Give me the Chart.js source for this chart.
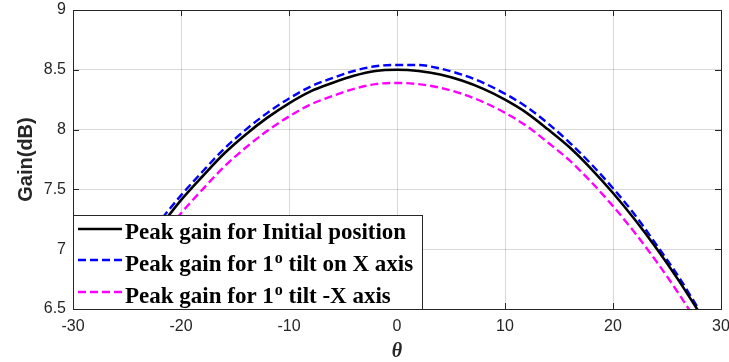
<!DOCTYPE html>
<html>
<head>
<meta charset="utf-8">
<script src="https://cdn.jsdelivr.net/npm/chart.js@4.4.1/dist/chart.umd.min.js"></script>
<style>
  html, body { margin: 0; padding: 0; background: #fff; }
  #wrap { width: 729px; height: 362px; position: relative; }
</style>
</head>
<body>
<div id="wrap"><canvas id="gainChart"></canvas></div>
<script>
// theta in degrees
const thetas = [-28, -26, -24, -22, -20, -18, -16, -14, -12, -10, -8, -6, -4, -2, 0,
                2, 4, 6, 8, 10, 12, 14, 16, 18, 20, 22, 24, 26, 28];

// peak gain (dB)
const gainInitial = [6.38, 6.67, 6.94, 7.18, 7.41, 7.61, 7.80, 7.96, 8.10, 8.22, 8.32, 8.39, 8.45, 8.49, 8.50,
                     8.49, 8.46, 8.41, 8.34, 8.25, 8.14, 8.00, 7.85, 7.67, 7.47, 7.25, 7.01, 6.75, 6.47];
const gainTiltX = [6.43, 6.72, 6.99, 7.23, 7.45, 7.65, 7.84, 8.00, 8.14, 8.26, 8.36, 8.43, 8.49, 8.53, 8.54,
                   8.54, 8.51, 8.46, 8.39, 8.30, 8.19, 8.05, 7.89, 7.71, 7.51, 7.29, 7.04, 6.78, 6.49];
const gainTiltNegX = [6.27, 6.56, 6.83, 7.07, 7.30, 7.50, 7.69, 7.85, 7.99, 8.11, 8.21, 8.28, 8.34, 8.38, 8.39,
                      8.38, 8.35, 8.30, 8.23, 8.14, 8.03, 7.89, 7.74, 7.56, 7.36, 7.14, 6.90, 6.64, 6.36];

const seriesLabels = [
    ['Peak gain for Initial position'],
    ['Peak gain for 1', 'o', ' tilt on X axis'],
    ['Peak gain for 1', 'o', ' tilt -X axis']
];
const seriesColors = ['#000000', '#0000ff', '#ff00ff'];
const seriesDash = [[], [8, 4], [8, 4]];
const seriesWidth = [2.6, 2.4, 2.4];

const axisColor = '#262626';
const gridColor = 'rgba(0,0,0,0.15)';

function toPoints(values) {
    return thetas.map((t, i) => ({ x: t, y: values[i] }));
}

// inward tick marks and the closed box around the axes
const boxPlugin = {
    id: 'boxFrame',
    afterDraw(chart) {
        const ctx = chart.ctx;
        const a = chart.chartArea;
        const xs = chart.scales.x, ys = chart.scales.y;
        ctx.save();
        ctx.strokeStyle = axisColor;
        ctx.lineWidth = 1;
        ctx.beginPath();
        xs.ticks.forEach(t => {
            const px = Math.round(xs.getPixelForValue(t.value)) + 0.5;
            ctx.moveTo(px, a.top); ctx.lineTo(px, a.top + 6);
            if (px < 420) return; // legend covers the lower left corner
            ctx.moveTo(px, a.bottom); ctx.lineTo(px, a.bottom - 6);
        });
        ys.ticks.forEach(t => {
            const py = Math.round(ys.getPixelForValue(t.value)) + 0.5;
            if (py < 214) { ctx.moveTo(a.left, py); ctx.lineTo(a.left + 6, py); }
            ctx.moveTo(a.right, py); ctx.lineTo(a.right - 6, py);
        });
        ctx.stroke();
        ctx.strokeRect(Math.round(a.left) + 0.5, Math.round(a.top) + 0.5,
                       Math.round(a.right - a.left), Math.round(a.bottom - a.top));
        ctx.restore();
    }
};

// legend box in the lower left corner, drawn by hand for the superscripts
const legendPlugin = {
    id: 'cornerLegend',
    afterDatasetsDraw(chart) {
        const ctx = chart.ctx;
        const a = chart.chartArea;
        const left = Math.round(a.left) + 0.5, top = 215.5;
        const right = 422.5, bottom = Math.round(a.bottom) + 0.5;
        ctx.save();
        ctx.fillStyle = '#fff';
        ctx.fillRect(left, top, right - left, bottom - top);
        ctx.strokeStyle = axisColor;
        ctx.lineWidth = 1;
        ctx.strokeRect(left, top, right - left, bottom - top);

        const sampleY = [229, 260, 292];
        const baseY = [239, 271, 303];
        const mainFont = 'bold 23px "Liberation Serif", "Times New Roman", serif';
        const supFont = 'bold 16px "Liberation Serif", "Times New Roman", serif';
        seriesLabels.forEach((parts, i) => {
            ctx.strokeStyle = seriesColors[i];
            ctx.lineWidth = seriesWidth[i];
            ctx.setLineDash(seriesDash[i]);
            ctx.beginPath();
            ctx.moveTo(78, sampleY[i]);
            ctx.lineTo(122, sampleY[i]);
            ctx.stroke();
            ctx.setLineDash([]);

            ctx.fillStyle = '#000';
            ctx.textBaseline = 'alphabetic';
            ctx.textAlign = 'left';
            let x = 125;
            parts.forEach((p, j) => {
                const sup = j === 1;
                ctx.font = sup ? supFont : mainFont;
                ctx.fillText(p, x + (sup ? 1 : 0), sup ? baseY[i] - 8 : baseY[i]);
                x += ctx.measureText(p).width + (sup ? 1 : 0);
            });
        });
        ctx.restore();
    }
};

const ctx = document.getElementById('gainChart').getContext('2d');
const gainChart = new Chart(ctx, {
    type: 'line',
    data: {
        datasets: [gainInitial, gainTiltX, gainTiltNegX].map((vals, i) => ({
            label: seriesLabels[i].join(''),
            data: toPoints(vals),
            borderColor: seriesColors[i],
            borderWidth: seriesWidth[i],
            borderDash: seriesDash[i],
            pointRadius: 0,
            fill: false,
            cubicInterpolationMode: 'monotone'
        }))
    },
    options: {
        responsive: true,
        maintainAspectRatio: false,
        animation: false,
        layout: { padding: { top: 10, right: 8, left: 0, bottom: 0 } },
        plugins: {
            legend: { display: false },
            tooltip: { enabled: false }
        },
        scales: {
            x: {
                type: 'linear',
                min: -30,
                max: 30,
                ticks: {
                    stepSize: 10,
                    padding: 8,
                    color: axisColor,
                    font: { family: '"Liberation Sans", Arial, sans-serif', size: 16 }
                },
                grid: { color: gridColor, drawTicks: false },
                border: { display: false },
                title: {
                    display: true,
                    text: 'θ',
                    color: axisColor,
                    padding: { top: 0, bottom: 0 },
                    font: { family: '"Liberation Serif", "Times New Roman", serif', size: 20, style: 'italic', weight: 'bold', lineHeight: 1 }
                },
                afterFit(scale) {
                    scale.height = 53;
                    scale.paddingLeft = 0;
                    scale.paddingRight = 0;
                }
            },
            y: {
                min: 6.5,
                max: 9,
                ticks: {
                    stepSize: 0.5,
                    padding: 7,
                    color: axisColor,
                    font: { family: '"Liberation Sans", Arial, sans-serif', size: 16 },
                    callback: v => String(Math.round(v * 10) / 10)
                },
                grid: { color: gridColor, drawTicks: false },
                border: { display: false },
                title: {
                    display: true,
                    text: 'Gain(dB)',
                    color: axisColor,
                    padding: { top: 14, bottom: 0 },
                    font: { family: '"Liberation Sans", Arial, sans-serif', size: 20, weight: 'bold', lineHeight: 1.2 }
                },
                afterFit(scale) {
                    scale.width = 73;
                    scale.paddingTop = 0;
                    scale.paddingBottom = 0;
                }
            }
        }
    },
    plugins: [legendPlugin, boxPlugin]
});
</script>
</body>
</html>
